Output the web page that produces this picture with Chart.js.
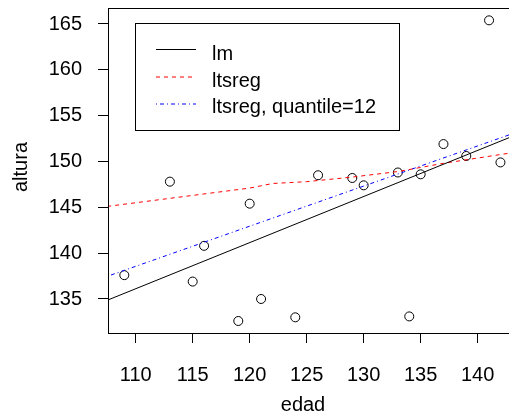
<!DOCTYPE html>
<html>
<head>
<meta charset="utf-8">
<script src="https://cdn.jsdelivr.net/npm/chart.js@4"></script>
<style>
  html, body { margin: 0; padding: 0; background: #fff; overflow: hidden; }
  #wrap { width: 509px; height: 414px; }
</style>
</head>
<body>
<div id="wrap"><canvas id="myChart" width="509" height="414"></canvas></div>
<script>
// datos
const edad = [109, 113, 115, 116, 119, 120, 121, 124, 126, 129, 130, 133, 134, 135, 137, 139, 141, 142];
const altura = [137.6, 147.8, 136.9, 140.8, 132.6, 145.4, 135.0, 133.0, 148.5, 148.2, 147.4, 148.8, 133.1, 148.6, 151.9, 150.6, 165.4, 149.9];

// rectas ajustadas
const lmX = [107.5, 143];
const lmY = [134.86, 152.72];
const ltsX = [107.5, 120, 122, 125, 129, 133, 137, 143];
const ltsY = [145.1, 147.1, 147.6, 147.8, 148.3, 148.9, 149.8, 150.95];
const ltsqX = [107.5, 143];
const ltsqY = [137.47, 153.01];

const xTicks = [110, 115, 120, 125, 130, 135, 140];
const yTicks = [135, 140, 145, 150, 155, 160, 165];

const FONT = '"Liberation Sans", Arial, sans-serif';

const pts = (xs, ys) => xs.map((x, i) => ({ x: x, y: ys[i] }));

// sin relleno extra alrededor de los ejes
const noPad = s => { s.paddingTop = 0; s.paddingBottom = 0; s.paddingLeft = 0; s.paddingRight = 0; };

// caja del grafico, leyenda y titulos de ejes
const boxPlugin = {
  id: 'boxPlugin',
  afterDraw(chart) {
    const { ctx, chartArea: a } = chart;
    ctx.save();
    ctx.strokeStyle = '#000';
    ctx.lineWidth = 1;
    ctx.strokeRect(Math.round(a.left) + 0.5, Math.round(a.top) + 0.5, a.right - a.left + 10, Math.round(a.bottom - a.top));

    // leyenda
    ctx.fillStyle = '#fff';
    ctx.fillRect(136, 24, 263, 106);
    ctx.strokeRect(135.5, 23.5, 264, 107);
    const rows = [49.5, 77, 104];
    const base = [60, 87, 113];
    const lines = chart.data.datasets.filter(d => d.type === 'line');
    lines.forEach((d, i) => {
      ctx.beginPath();
      ctx.strokeStyle = d.borderColor;
      ctx.setLineDash(d.borderDash || []);
      ctx.moveTo(156, rows[i]);
      ctx.lineTo(196, rows[i]);
      ctx.stroke();
      ctx.setLineDash([]);
      ctx.fillStyle = '#000';
      ctx.font = '20px ' + FONT;
      ctx.textAlign = 'left';
      ctx.textBaseline = 'alphabetic';
      ctx.fillText(d.label, 212, base[i]);
    });

    // titulos
    ctx.fillStyle = '#000';
    ctx.font = '20px ' + FONT;
    ctx.textAlign = 'center';
    ctx.textBaseline = 'alphabetic';
    ctx.fillText('edad', 303, 411);
    ctx.translate(27, 167);
    ctx.rotate(-Math.PI / 2);
    ctx.fillText('altura', 0, 0);
    ctx.restore();
  }
};

const ctx = document.getElementById('myChart').getContext('2d');
const myChart = new Chart(ctx, {
  type: 'scatter',
  data: {
    datasets: [
      {
        type: 'line',
        label: 'lm',
        data: pts(lmX, lmY),
        borderColor: '#000000',
        borderWidth: 1,
        pointRadius: 0,
        fill: false,
        clip: 0
      },
      {
        type: 'line',
        label: 'ltsreg',
        data: pts(ltsX, ltsY),
        borderColor: '#ff0000',
        borderWidth: 1,
        borderDash: [4, 4],
        pointRadius: 0,
        fill: false,
        clip: 0
      },
      {
        type: 'line',
        label: 'ltsreg, quantile=12',
        data: pts(ltsqX, ltsqY),
        borderColor: '#0000ff',
        borderWidth: 1,
        borderDash: [1, 3, 4, 3],
        pointRadius: 0,
        fill: false,
        clip: 0
      },
      {
        type: 'scatter',
        label: 'datos',
        data: pts(edad, altura),
        borderColor: '#000',
        backgroundColor: 'rgba(0,0,0,0)',
        borderWidth: 1,
        pointRadius: 4.5,
        pointHoverRadius: 4.5
      }
    ]
  },
  options: {
    responsive: false,
    maintainAspectRatio: false,
    animation: false,
    events: [],
    layout: { autoPadding: false, padding: { top: 8, left: 0, right: 0, bottom: 0 } },
    plugins: {
      legend: { display: false },
      tooltip: { enabled: false }
    },
    scales: {
      x: {
        type: 'linear',
        min: 107.57,
        max: 142.75,
        afterFit: s => { s.height = 81; noPad(s); },
        afterBuildTicks: s => { s.ticks = xTicks.map(v => ({ value: v })); },
        grid: { drawOnChartArea: false, drawTicks: true, tickLength: 10, tickColor: '#000', tickWidth: 1 },
        border: { display: false },
        ticks: { color: '#000', font: { size: 20, family: FONT }, padding: 20, maxRotation: 0, autoSkip: false }
      },
      y: {
        type: 'linear',
        min: 131.29,
        max: 166.745,
        afterFit: s => { s.width = 108; noPad(s); },
        afterBuildTicks: s => { s.ticks = yTicks.map(v => ({ value: v })); },
        grid: { drawOnChartArea: false, drawTicks: true, tickLength: 10, tickColor: '#000', tickWidth: 1 },
        border: { display: false },
        ticks: { color: '#000', font: { size: 20, family: FONT }, padding: 16, autoSkip: false }
      }
    }
  },
  plugins: [boxPlugin]
});
</script>
</body>
</html>
